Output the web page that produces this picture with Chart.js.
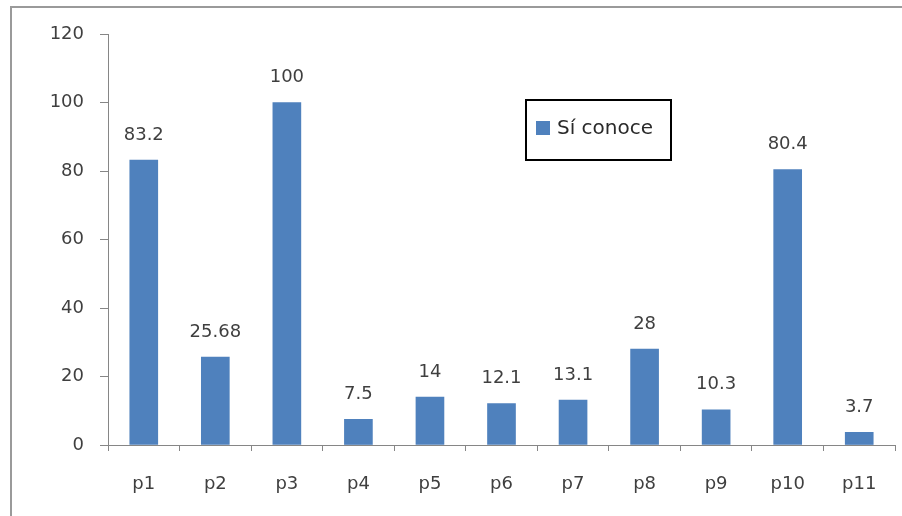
<!DOCTYPE html>
<html>
<head>
<meta charset="utf-8">
<style>
  html, body { margin: 0; padding: 0; background: #fff; }
  #wrap { width: 902px; height: 516px; }
</style>
</head>
<body>
<div id="wrap"><canvas id="conoce"></canvas></div>
<script src="https://cdn.jsdelivr.net/npm/chart.js@4"></script>
<script>
// Preguntas p1..p11, porcentaje que sí conoce
const preguntas = ["p1", "p2", "p3", "p4", "p5", "p6", "p7", "p8", "p9", "p10", "p11"];
const siConoce = [83.2, 25.68, 100, 7.5, 14, 12.1, 13.1, 28, 10.3, 80.4, 3.7];
const serieNombre = "Sí conoce";
const ejeY = { min: 0, max: 120, paso: 20 };

const txtColor = "#3f3f3f";
const fontFam = "'DejaVu Sans', sans-serif";
Chart.defaults.color = txtColor;
Chart.defaults.font.family = fontFam;

// frame lines along the left and top edges
const marco = {
  id: "marco",
  beforeDraw(chart) {
    const ctx = chart.ctx;
    ctx.save();
    ctx.strokeStyle = "#9a9a9a";
    ctx.lineWidth = 2;
    ctx.beginPath();
    ctx.moveTo(11, chart.height);
    ctx.lineTo(11, 7);
    ctx.lineTo(chart.width, 7);
    ctx.stroke();
    ctx.restore();
  },
};

// value above each bar
const valores = {
  id: "valores",
  afterDatasetsDraw(chart) {
    const ctx = chart.ctx;
    const meta = chart.getDatasetMeta(0);
    ctx.save();
    ctx.font = "18px " + fontFam;
    ctx.fillStyle = txtColor;
    ctx.textAlign = "center";
    ctx.textBaseline = "middle";
    meta.data.forEach((bar, i) => {
      ctx.fillText(String(siConoce[i]), bar.x, bar.y - 25);
    });
    ctx.restore();
  },
};

// boxed legend inside the plot
const leyenda = {
  id: "leyenda",
  afterDraw(chart) {
    const ctx = chart.ctx;
    const ds = chart.data.datasets[0];
    ctx.save();
    ctx.strokeStyle = "#000";
    ctx.lineWidth = 2;
    ctx.strokeRect(526, 100, 145, 60);
    ctx.fillStyle = ds.backgroundColor;
    ctx.fillRect(536, 121, 14, 14);
    ctx.font = "20px " + fontFam;
    ctx.fillStyle = "#2a2a2a";
    ctx.textAlign = "left";
    ctx.textBaseline = "middle";
    ctx.fillText(ds.label, 557, 129);
    ctx.restore();
  },
};

new Chart(document.getElementById("conoce"), {
  type: "bar",
  data: {
    labels: preguntas,
    datasets: [
      {
        label: serieNombre,
        data: siConoce,
        backgroundColor: "#4F81BD",
        barThickness: 28,
      },
    ],
  },
  options: {
    responsive: true,
    maintainAspectRatio: false,
    animation: false,
    layout: { padding: { top: 34, right: 7, left: 0, bottom: 0 } },
    plugins: {
      legend: { display: false },
      tooltip: { enabled: false },
    },
    scales: {
      x: {
        offset: true,
        grid: {
          offset: true,
          drawOnChartArea: false,
          drawTicks: true,
          tickLength: 6,
          color: "#868686",
        },
        border: { display: true, color: "#868686", width: 1 },
        ticks: { font: { size: 18 }, padding: 23, color: txtColor },
        afterFit(scale) { scale.height = 71; },
      },
      y: {
        min: ejeY.min,
        max: ejeY.max,
        ticks: { stepSize: ejeY.paso, font: { size: 18 }, padding: 16, color: txtColor },
        grid: {
          drawOnChartArea: false,
          drawTicks: true,
          tickLength: 8,
          color: "#868686",
        },
        border: { display: true, color: "#868686", width: 1 },
        afterFit(scale) { scale.width = 108; },
      },
    },
  },
  plugins: [marco, valores, leyenda],
});
</script>
</body>
</html>
